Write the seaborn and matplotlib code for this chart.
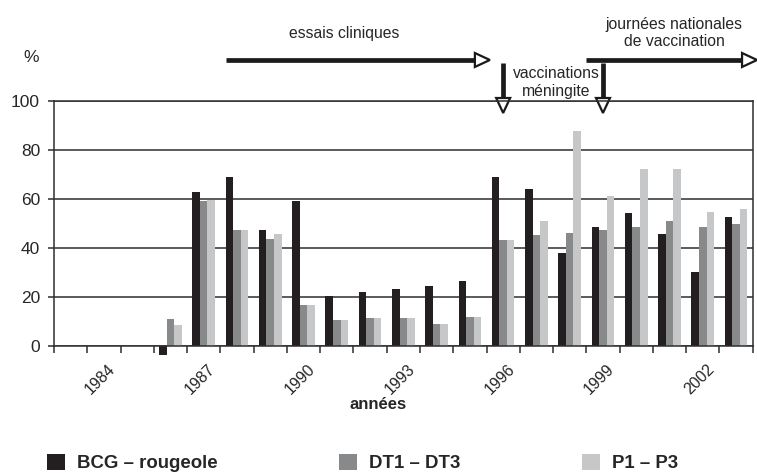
import numpy as np
import pandas as pd
import matplotlib
matplotlib.use("Agg")
import matplotlib.pyplot as plt
from matplotlib.patches import Polygon
from matplotlib.transforms import ScaledTranslation
import seaborn as sns

nan = np.nan
years = list(range(1983, 2004))
bcg = [nan, nan, nan, -3.5, 62.9, 69.0, 47.4, 59.1, 20.4, 21.9, 23.1,
       24.5, 26.4, 68.8, 63.9, 37.9, 48.5, 54.1, 45.7, 30.0, 52.6]
dt = [nan, nan, nan, 10.9, 59.1, 47.4, 43.5, 16.8, 10.5, 11.4, 11.4,
      8.8, 12.0, 43.1, 45.1, 46.2, 47.4, 48.5, 51.0, 48.5, 49.6]
p = [nan, nan, nan, 8.6, 59.5, 47.4, 45.7, 16.8, 10.5, 11.4, 11.4,
     8.8, 12.0, 43.1, 51.0, 87.8, 61.1, 72.0, 72.0, 54.6, 55.7]
series = ["BCG – rougeole", "DT1 – DT3", "P1 – P3"]
colors = ["#231f20", "#88898b", "#c6c7c9"]
label_years = [1984, 1987, 1990, 1993, 1996, 1999, 2002]

sns.set_style("white")
plt.rcParams["font.family"] = ["Liberation Sans", "DejaVu Sans"]

df = pd.DataFrame({
    "annee": [str(y) for y in years] * 3,
    "valeur": bcg + dt + p,
    "serie": [s for s in series for _ in years],
}).dropna()

dark = "#2e2e2e"
fig = plt.figure(figsize=(7.57, 4.73), dpi=100)
ax = fig.add_axes([54 / 757, 1 - 346 / 473, 698.7 / 757, 245.3 / 473])

sns.barplot(data=df, x="annee", y="valeur", hue="serie",
            order=[str(y) for y in years], hue_order=series,
            palette=dict(zip(series, colors)), width=0.68, saturation=1,
            errorbar=None, linewidth=0, ax=ax)
for patch in ax.patches:
    patch.set_clip_on(False)

ax.set_xlim(-0.5, len(years) - 0.5)
ax.set_ylim(0, 100)
ax.set_yticks(range(0, 101, 20))
ax.grid(axis="y", color=dark, lw=1.1)
ax.set_axisbelow(True)
for s in ax.spines.values():
    s.set_color(dark)
    s.set_linewidth(1.1)

# tick marks between years, labels every three years
ax.set_xticks(np.arange(-0.5, len(years), 1), [""] * (len(years) + 1))
pos = [years.index(y) for y in label_years]
ax.set_xticks(pos, [str(y) for y in label_years], minor=True)
ax.tick_params(bottom=True, left=True)
ax.tick_params(axis="x", which="major", length=5, width=1.1, color=dark, direction="out")
ax.tick_params(axis="x", which="minor", length=0, pad=15, labelsize=11.4)
ax.tick_params(axis="y", length=4, width=1.1, color=dark, direction="out",
               labelsize=12.5, pad=6)
off = ScaledTranslation(9 / 100, 0, fig.dpi_scale_trans)
for lab in ax.get_xticklabels(minor=True):
    lab.set_rotation(45)
    lab.set_ha("right")
    lab.set_va("center")
    lab.set_rotation_mode("anchor")
    lab.set_transform(lab.get_transform() + off)

ax.set_xlabel("années", fontsize=12, fontweight="bold")
ax.set_ylabel("")
ax.xaxis.set_label_coords(0.464, -0.238)
ax.xaxis.label.set_va("center")

# annotations above the plot
ax.text(-1.19, 117.8, "%", fontsize=12.5, ha="center", va="center", clip_on=False)
ax.text(8.22, 127.2, "essais cliniques", fontsize=11.3, ha="center", va="center")
ax.text(18.14, 127.6, "journées nationales\nde vaccination", fontsize=11.3,
        ha="center", va="center", linespacing=1.2)
ax.text(14.59, 107.4, "vaccinations\nméningite", fontsize=11.3,
        ha="center", va="center", linespacing=1.2)


def h_arrow(x0, x1, y):
    ax.plot([x0, x1 - 0.45], [y, y], color="#1a1a1a", lw=3.4,
            solid_capstyle="butt", clip_on=False)
    ax.add_patch(Polygon([[x1 - 0.45, y + 2.85], [x1, y], [x1 - 0.45, y - 2.85]],
                         closed=True, fc="white", ec="#1a1a1a", lw=1.6, clip_on=False))


def v_arrow(x, y0, y1):
    ax.plot([x, x], [y0, y1 + 6.1], color="#1a1a1a", lw=3.4,
            solid_capstyle="butt", clip_on=False)
    ax.add_patch(Polygon([[x - 0.21, y1 + 6.1], [x, y1], [x + 0.21, y1 + 6.1]],
                         closed=True, fc="white", ec="#1a1a1a", lw=1.6, clip_on=False))


h_arrow(4.67, 12.6, 116.6)
h_arrow(15.49, 20.63, 116.6)
v_arrow(years.index(1996), 115.4, 95.0)
v_arrow(years.index(1999), 115.4, 95.0)

handles, labels = ax.get_legend_handles_labels()
ax.get_legend().remove()
fig.legend(handles, labels, ncol=3, loc="center left",
           bbox_to_anchor=(47 / 757, 1 - 463 / 473), frameon=False,
           prop=dict(weight="bold", size=13.4), handlelength=0.95, handleheight=0.95,
           handletextpad=0.65, columnspacing=6.55, borderaxespad=0, borderpad=0)

fig.savefig("out.png", dpi=100)
